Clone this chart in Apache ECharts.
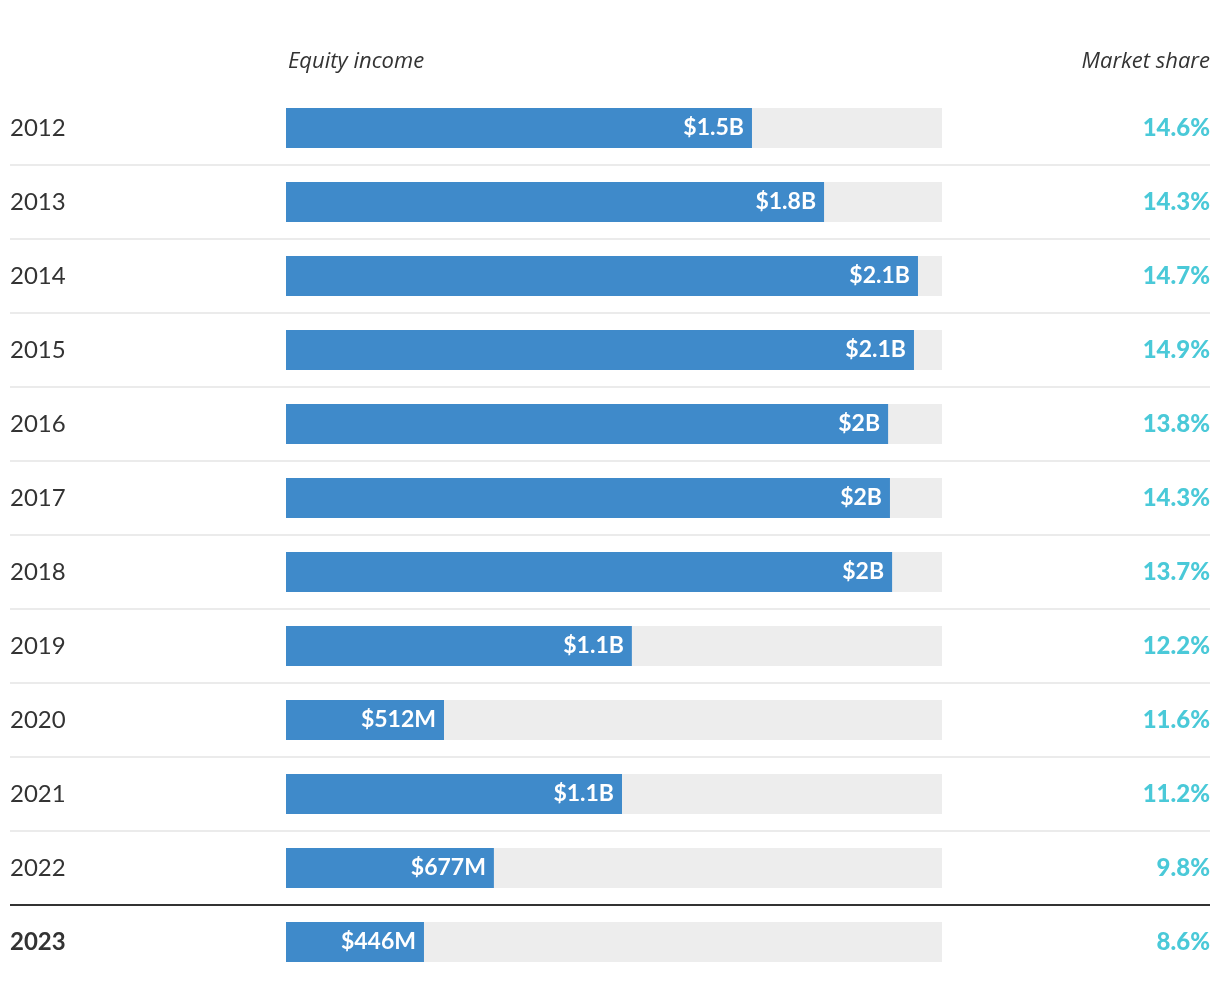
<!DOCTYPE html>
<html>
<head>
<meta charset="utf-8">
<title>Equity income and market share</title>
<script src="https://cdn.jsdelivr.net/npm/echarts@6/dist/echarts.min.js"></script>
<style>
	html, body { margin: 0; padding: 0; background: #fff; }
	#chart { width: 1220px; height: 988px; }
</style>
</head>
<body>
<div id="chart"></div>
<script>
	// data
	const years = ['2012', '2013', '2014', '2015', '2016', '2017', '2018', '2019', '2020', '2021', '2022', '2023'];
	// equity income, $M
	const equityIncome = [1513, 1747, 2052, 2039, 1955, 1961, 1968, 1123, 513, 1091, 675, 448];
	const incomeLabels = ['$1.5B', '$1.8B', '$2.1B', '$2.1B', '$2B', '$2B', '$2B', '$1.1B', '$512M', '$1.1B', '$677M', '$446M'];
	const marketShare = ['14.6%', '14.3%', '14.7%', '14.9%', '13.8%', '14.3%', '13.7%', '12.2%', '11.6%', '11.2%', '9.8%', '8.6%'];
	const axisMax = 2130;

	const font = 'Lato, "Open Sans", sans-serif';
	const chart = echarts.init(document.getElementById('chart'));

	// row separators: light grey, last one (above 2023) dark
	const sepColors = [];
	for (let i = 0; i < years.length - 2; i++) sepColors.push('#ebebeb');
	sepColors.push('#333333');

	const headStyle = { fontFamily: '"Open Sans", sans-serif', fontStyle: 'italic', fontWeight: 'normal', fontSize: 22, color: '#333' };

	const option = {
		animation: false,
		textStyle: { fontFamily: font },
		title: [
			{ text: 'Equity income', left: 288, top: 51, padding: 0, textStyle: headStyle },
			{ text: 'Market share', right: 10, top: 51, padding: 0, textStyle: headStyle }
		],
		grid: [
			// full width grid: year labels, market share, separators
			{ left: 10, right: 10, top: 91, bottom: 9 },
			// bars
			{ left: 286, right: 278, top: 91, bottom: 9 }
		],
		xAxis: [
			{ gridIndex: 0, type: 'value', min: 0, max: 1, show: false },
			{ gridIndex: 1, type: 'value', min: 0, max: axisMax, show: false }
		],
		yAxis: [
			{
				gridIndex: 0,
				type: 'category',
				data: years,
				inverse: true,
				position: 'left',
				axisLine: { show: false },
				axisTick: { show: false },
				axisLabel: {
					inside: true,
					margin: 0,
					fontSize: 24,
					color: '#333',
					formatter (v, i) {
						return i === years.length - 1 ? '{b|' + v + '}' : v;
					},
					rich: {
						b: { fontFamily: font, fontSize: 24, fontWeight: 'bold', color: '#333' }
					}
				},
				splitLine: {
					show: true,
					showMinLine: false,
					showMaxLine: false,
					lineStyle: { color: sepColors, width: 2 }
				}
			},
			{
				gridIndex: 0,
				type: 'category',
				data: marketShare,
				inverse: true,
				position: 'right',
				axisLine: { show: false },
				axisTick: { show: false },
				splitLine: { show: false },
				axisLabel: {
					inside: true,
					margin: 0,
					fontFamily: font,
					fontSize: 24,
					fontWeight: 900,
					color: '#4ac9d8'
				}
			},
			{
				gridIndex: 1,
				type: 'category',
				data: years,
				inverse: true,
				show: false
			}
		],
		series: [
			{
				type: 'bar',
				xAxisIndex: 1,
				yAxisIndex: 2,
				data: equityIncome,
				barWidth: 40,
				itemStyle: { color: '#3f8aca' },
				showBackground: true,
				backgroundStyle: { color: '#ededed' },
				label: {
					show: true,
					position: 'insideRight',
					distance: 8,
					color: '#fff',
					fontWeight: 'bold',
					fontSize: 23,
					formatter (p) { return incomeLabels[p.dataIndex]; }
				}
			}
		]
	};

	chart.setOption(option);
</script>
</body>
</html>
